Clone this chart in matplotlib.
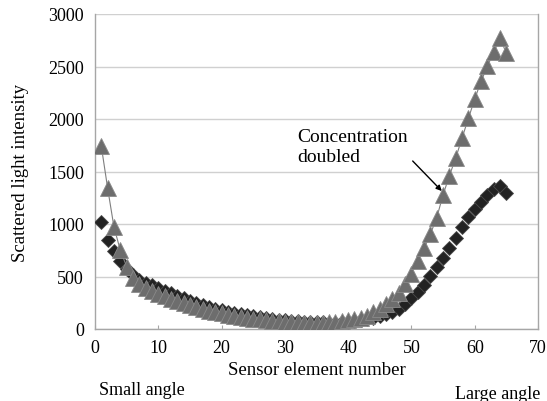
import matplotlib
matplotlib.use("Agg")
import matplotlib.pyplot as plt

plt.rcParams['font.family'] = ['Liberation Serif', 'DejaVu Serif']

sensor = list(range(1, 66))

conc_single = [1020, 850, 740, 650, 575, 515, 470, 440, 415, 390,
               365, 340, 315, 292, 270, 250, 230, 212, 195, 180,
               166, 153, 141, 130, 120, 111, 103, 96, 90, 84,
               79, 74, 70, 67, 64, 62, 61, 61, 63, 67,
               73, 81, 92, 105, 122, 142, 165, 195, 240, 300,
               357, 420, 505, 590, 680, 775, 870, 970, 1068, 1140,
               1210, 1275, 1330, 1365, 1295]

conc_doubled = [1740, 1340, 970, 750, 595, 490, 425, 390, 360, 335,
                310, 287, 265, 245, 226, 208, 191, 176, 162, 149,
                137, 126, 116, 107, 99, 92, 85, 79, 74, 70,
                66, 63, 61, 60, 60, 61, 63, 67, 73, 81,
                92, 106, 124, 165, 195, 235, 285, 345, 425, 525,
                645, 767, 905, 1060, 1278, 1460, 1628, 1820, 2005, 2190,
                2358, 2502, 2638, 2768, 2628]

x_ticks = [0, 10, 20, 30, 40, 50, 60, 70]
y_ticks = [0, 500, 1000, 1500, 2000, 2500, 3000]

fig = plt.figure(figsize=(5.47, 4.02), dpi=100)
ax = fig.add_axes([95/547, 1-330/402, (538-95)/547, (330-15)/402])

ax.plot(sensor, conc_single, linestyle='none', marker='D', markersize=7.3,
        markerfacecolor='#222222', markeredgecolor='#4a4a4a', markeredgewidth=0.6, zorder=3)
ax.plot(sensor, conc_doubled, linestyle='-', color='#7f7f7f', linewidth=0.8,
        marker='^', markersize=11, markerfacecolor='#6d6d6d',
        markeredgecolor='#8a8a8a', markeredgewidth=0.6, zorder=4)

ax.set_xlim(0, 70)
ax.set_ylim(0, 3000)
ax.set_xticks(x_ticks)
ax.set_yticks(y_ticks)
ax.yaxis.grid(True, color='#d0d0d0', linewidth=1.0)
ax.set_axisbelow(True)
for s in ax.spines.values():
    s.set_color('#a6a6a6')
    s.set_linewidth(1.0)
ax.spines['top'].set_visible(False)
ax.tick_params(axis='x', direction='in', length=3, color='#a6a6a6', labelsize=13, pad=7)
ax.tick_params(axis='y', length=0, labelsize=13, pad=8)

ax.set_ylabel('Scattered light intensity', fontsize=13.5, labelpad=14)
ax.set_xlabel('Sensor element number', fontsize=13.5, labelpad=4)

fig.text(99/547, 1-391/402, 'Small angle', fontsize=13, ha='left', va='center')
fig.text(540/547, 1-395/402, 'Large angle', fontsize=13, ha='right', va='center')

ax.text(32.0, 1565, 'Concentration\ndoubled', fontsize=14, ha='left', va='bottom',
        linespacing=1.2)
ax.annotate('', xy=(54.8, 1314), xytext=(50.2, 1600),
            arrowprops=dict(arrowstyle='-|>', color='black', lw=1.0,
                            mutation_scale=8, shrinkA=0, shrinkB=0),
            annotation_clip=False, zorder=5)

fig.savefig('out.png', dpi=100)
